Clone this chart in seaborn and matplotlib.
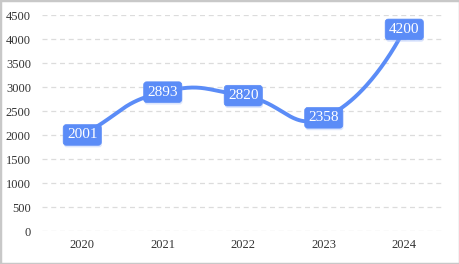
import numpy as np
import pandas as pd
import matplotlib
matplotlib.use("Agg")
import matplotlib.pyplot as plt
import matplotlib.patheffects as pe
import seaborn as sns
from matplotlib.patches import Rectangle

years = ["2020", "2021", "2022", "2023", "2024"]
values = [2001, 2893, 2820, 2358, 4200]
yticks = [0, 500, 1000, 1500, 2000, 2500, 3000, 3500, 4000, 4500]

BLUE = "#5b8cf7"

sns.set_theme(style="white")
plt.rcParams["font.family"] = ["Liberation Serif", "DejaVu Serif"]

fig = plt.figure(figsize=(4.6, 2.64), dpi=100)
ax = fig.add_axes([42 / 460, 33 / 264, 402.5 / 460, 216 / 264])

# bezier smoothing through the data points (computed in screen proportions)
SX, SY = 80.5, 216 / 4500
x = np.arange(len(values), dtype=float)
y = np.array(values, dtype=float)
P = np.column_stack([x * SX, y * SY])
n = len(P)
s = 0.5
cp_out = np.zeros_like(P)
cp_in = np.zeros_like(P)
for i in range(n):
    if i == 0:
        v = P[1] - P[0]
        cp_out[i] = P[i] + v * s
        cp_in[i] = P[i]
    elif i == n - 1:
        cp_in[i] = P[i]
    else:
        v = P[i + 1] - P[i - 1]
        d0 = np.linalg.norm(P[i] - P[i - 1])
        d1 = np.linalg.norm(P[i + 1] - P[i])
        r = d1 / (d0 + d1)
        cp_out[i] = P[i] + v * s * r
        cp_in[i] = P[i] - v * s * (1 - r)
pts = []
t = np.linspace(0, 1, 60)[:, None]
for i in range(n - 1):
    a, b, c, d = P[i], cp_out[i], cp_in[i + 1], P[i + 1]
    seg = (1 - t) ** 3 * a + 3 * (1 - t) ** 2 * t * b + 3 * (1 - t) * t ** 2 * c + t ** 3 * d
    pts.append(seg)
pts = np.vstack(pts)
smooth = pd.DataFrame({"x": pts[:, 0] / SX, "y": pts[:, 1] / SY})

sns.lineplot(data=smooth, x="x", y="y", ax=ax, color=BLUE, linewidth=2.8, sort=False, zorder=3)

for xi, v in zip(x, values):
    txt = ax.text(xi, v, str(v), ha="center", va="center", color="white", fontsize=11, zorder=5,
                  bbox=dict(boxstyle="round,pad=0.25,rounding_size=0.2", fc=BLUE, ec=BLUE, lw=0.5))
    txt.get_bbox_patch().set_path_effects([
        pe.SimplePatchShadow(offset=(0.5, -1.5), shadow_rgbFace="#9db8fa", alpha=0.35),
        pe.Normal()])

ax.set_xlim(-0.5, len(values) - 0.5)
ax.set_ylim(0, 4500)
ax.set_xticks(x)
ax.set_xticklabels(years)
ax.set_yticks(yticks)
ax.set_yticklabels([str(t) for t in yticks])
ax.tick_params(axis="both", length=0, labelsize=9, colors="#333333")
ax.tick_params(axis="y", pad=8)
ax.tick_params(axis="x", pad=6)
ax.set_xlabel("")
ax.set_ylabel("")
for yt in yticks:
    ax.axhline(yt, color="#dcdcdc", lw=0.9, ls=(0, (4, 3)), zorder=1)
for sp in ax.spines.values():
    sp.set_visible(False)
ax.grid(False)

fig.patches.append(Rectangle((0, 0), 1, 1, transform=fig.transFigure, fill=False,
                             ec="#c8c8c8", lw=2.5, zorder=10))
fig.savefig("out.png", dpi=100)
